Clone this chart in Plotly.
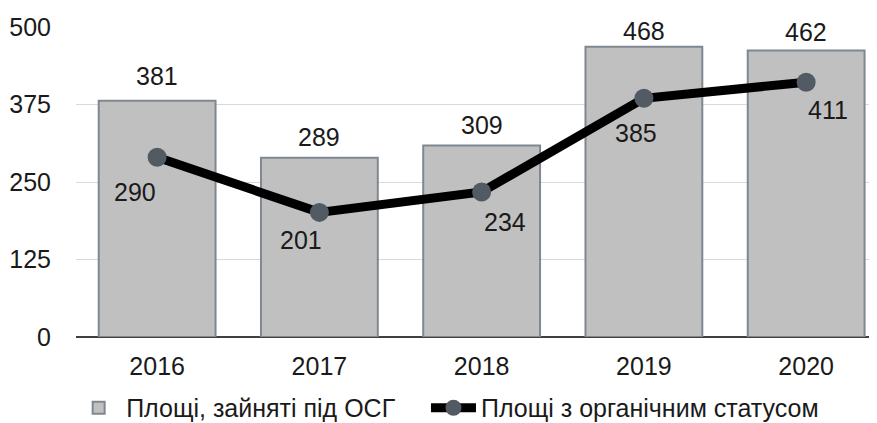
import plotly.graph_objects as go

years = ["2016", "2017", "2018", "2019", "2020"]
bar_values = [381, 289, 309, 468, 462]
line_values = [290, 201, 234, 385, 411]
bar_name = "Площі, зайняті під ОСГ"
line_name = "Площі з органічним статусом"
y_ticks = [0, 125, 250, 375, 500]

# label offsets (px)
bar_label_dy = [25, 21, 20, 16, 19]
line_label_dx = [-22, -18, 23, -8, 22]
line_label_dy = [-35, -28, -30, -35, -28]

FONT = "Liberation Sans, Arial, sans-serif"
fs = 25
TXT = "#1a1a1a"

fig = go.Figure()
fig.add_trace(go.Bar(
    x=years, y=bar_values, name=bar_name, legend="legend",
    marker=dict(color="#c0c0c0", line=dict(color="#7f8790", width=2)),
))
fig.add_trace(go.Scatter(
    x=years, y=line_values, name=line_name, mode="lines+markers", legend="legend2",
    line=dict(color="#000000", width=9),
    marker=dict(color="#525a63", size=19),
))
for i, (v, dy) in enumerate(zip(bar_values, bar_label_dy)):
    fig.add_annotation(x=i, y=v, text=str(v), showarrow=False, yshift=dy,
                       font=dict(size=fs, color=TXT, family=FONT))
for i, (v, dx, dy) in enumerate(zip(line_values, line_label_dx, line_label_dy)):
    fig.add_annotation(x=i, y=v, text=str(v), showarrow=False,
                       xshift=dx, yshift=dy,
                       font=dict(size=fs, color=TXT, family=FONT))

leg_common = dict(orientation="h", xanchor="left", y=-0.229, yanchor="middle",
                  font=dict(size=fs, family=FONT), itemwidth=45,
                  bgcolor="rgba(0,0,0,0)")

fig.update_layout(
    width=877, height=423,
    margin=dict(l=68, r=0, t=19, b=94, autoexpand=False),
    plot_bgcolor="white", paper_bgcolor="white",
    font=dict(family=FONT, size=fs, color=TXT),
    bargap=0.28,
    showlegend=True,
    legend=dict(x=-0.006, **leg_common),
    legend2=dict(x=0.4326, **leg_common),
    xaxis=dict(type="category", range=[-0.5, 4.486], showgrid=False, showline=False,
               ticks="", ticklabelstandoff=12, tickfont=dict(size=fs), fixedrange=True),
    yaxis=dict(range=[0, 500], tickvals=y_ticks, showgrid=True, gridcolor="#d9d9d9",
               gridwidth=1.2, zeroline=True, zerolinecolor="#404040", zerolinewidth=1.5,
               showline=False, ticks="", ticklabelstandoff=24, tickfont=dict(size=fs)),
)

fig.write_html("out.html")
